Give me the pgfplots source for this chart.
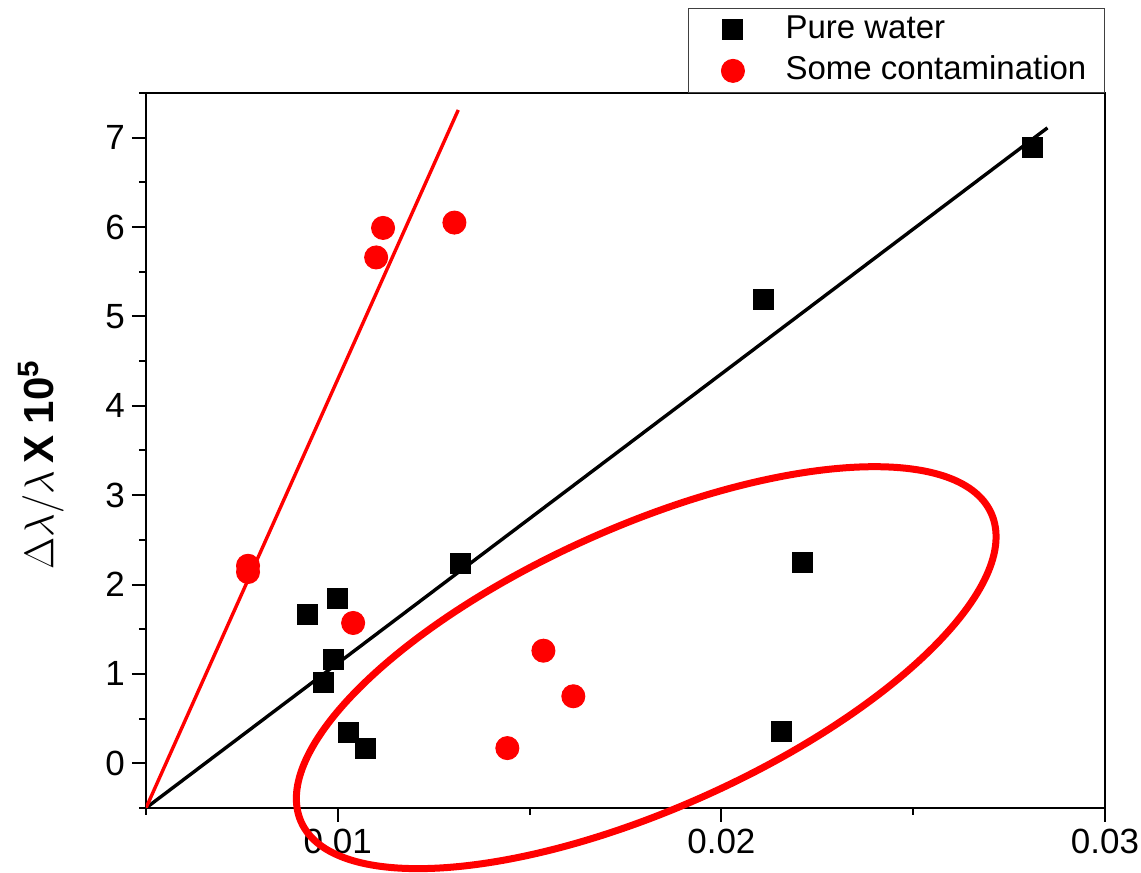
\documentclass[border=0pt]{standalone}
\usepackage{pgfplots}
\pgfplotsset{compat=1.18}
\usepackage{fontspec}
\setmainfont{Liberation Sans}

\definecolor{ptred}{RGB}{255,0,0}

\begin{document}
\begin{tikzpicture}
\begin{axis}[
  width=479.5pt, height=357.5pt, scale only axis,
  xmin=0.005, xmax=0.03, ymin=-0.5, ymax=7.5,
  xtick={0.01,0.02,0.03}, xticklabels={0.01,0.02,0.03},
  minor xtick={0.005,0.015,0.025},
  ytick={0,1,2,3,4,5,6,7},
  minor ytick={-0.5,0.5,1.5,2.5,3.5,4.5,5.5,6.5,7.5},
  scaled x ticks=false,
  tick align=outside, xtick pos=bottom, ytick pos=left,
  major tick length=7pt, minor tick length=3.5pt,
  every tick/.style={line width=1pt, black},
  axis line style={line width=1.2pt},
  ticklabel style={font=\fontsize{17.5}{20}\selectfont},
  /pgf/number format/assume math mode=true,
  ylabel={$\Delta\lambda/\lambda$\,\textbf{X 10\textsuperscript{5}}},
  ylabel style={font=\fontsize{21}{24}\selectfont, at={(ticklabel cs:0.48,14pt)}},
  legend cell align=left,
  legend image code/.code={\path (0pt,0pt) (26pt,0pt); \draw[#1] plot coordinates {(13pt,0pt)};},
  legend style={at={(1,1)}, anchor=south east, draw=black!75, line width=0.6pt,
    font=\fontsize{16.5}{19}\selectfont, inner xsep=9pt, inner ysep=3pt,
    row sep=5pt, column sep=13pt,
    nodes={inner sep=0pt, text height=12pt, text depth=3.5pt}},
]
% fitted lines through the lower-left corner
\addplot[black, line width=1.7pt, forget plot] coordinates {(0.005,-0.5) (0.02850,7.11)};
\addplot[ptred, line width=1.7pt, forget plot] coordinates {(0.005,-0.5) (0.01314,7.31)};

\addplot[only marks, mark=square*, mark size=5pt, black, mark options={fill=black, line width=0.5pt}]
  coordinates {
  (0.0092,1.67) (0.0100,1.84) (0.0099,1.16) (0.00964,0.90)
  (0.01027,0.35) (0.01071,0.16) (0.01319,2.23) (0.0211,5.19)
  (0.02211,2.25) (0.02157,0.36) (0.02811,6.89)
  };
\addlegendentry{Pure water}

\addplot[only marks, mark=*, mark size=5.75pt, ptred, mark options={fill=ptred, line width=0.5pt}]
  coordinates {
  (0.00766,2.21) (0.00766,2.14) (0.0104,1.57) (0.0110,5.66)
  (0.01118,5.99) (0.01304,6.05) (0.01442,0.17) (0.01536,1.26)
  (0.01614,0.75)
  };
\addlegendentry{Some contamination}

\coordinate (ec) at (axis cs:0.01804,1.07);
\coordinate (bl) at (rel axis cs:0,0);
\coordinate (tr) at (rel axis cs:1,1);
\end{axis}
% outlined group of off-trend points
\draw[ptred, line width=3.5pt, shift={(ec)}, rotate=24.1] (0,0) ellipse[x radius=189pt, y radius=70.5pt];
\pgfresetboundingbox
\path ([xshift=-73pt, yshift=-32.5pt]bl) rectangle ([xshift=18pt, yshift=46.5pt]tr);
\end{tikzpicture}
\end{document}
